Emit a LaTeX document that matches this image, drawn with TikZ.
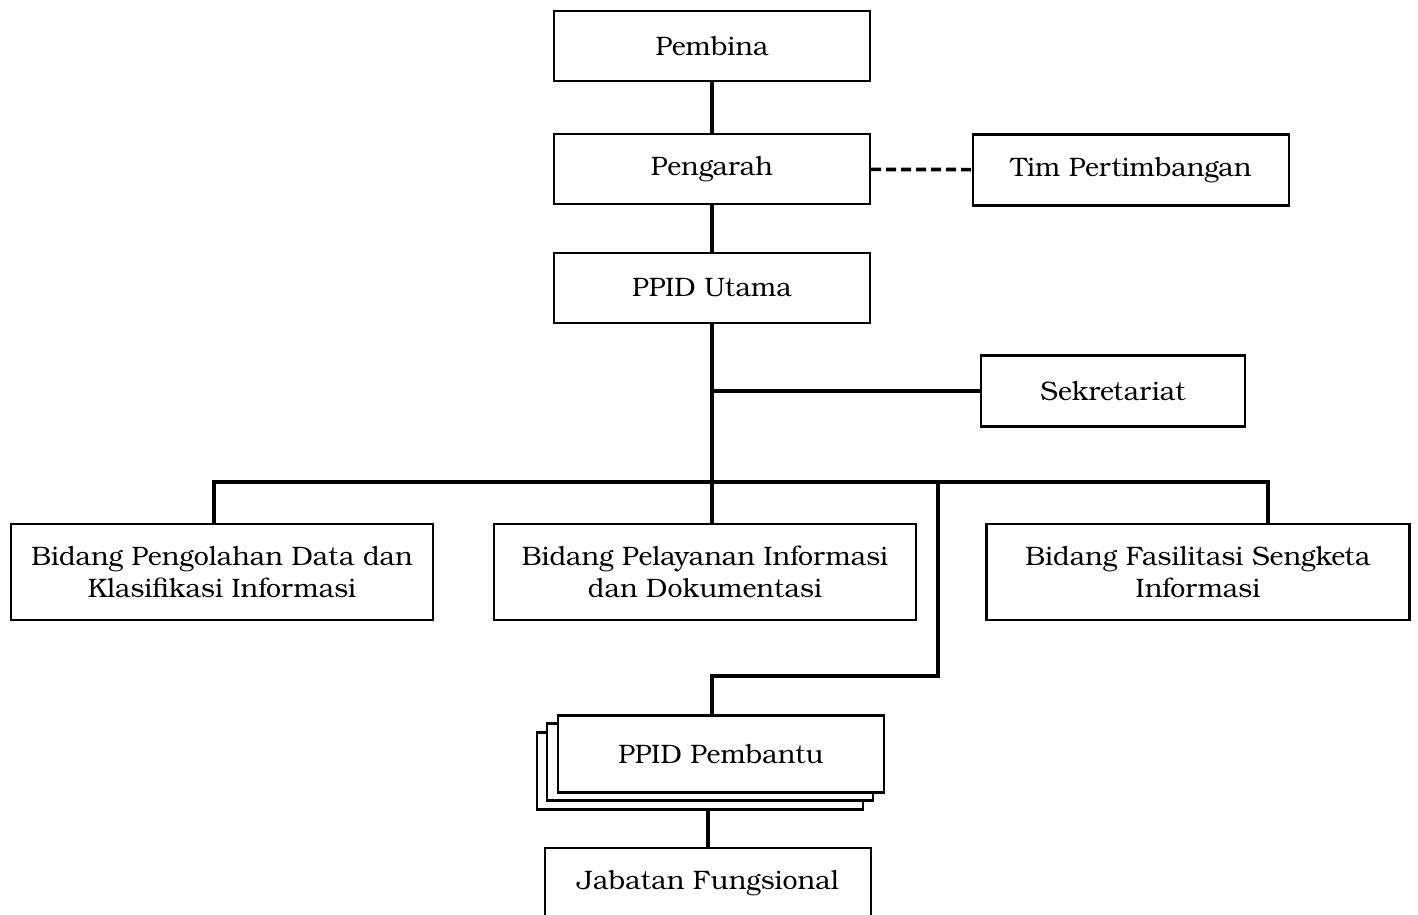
\documentclass[tikz,border=0pt]{standalone}
\usepackage{fontspec}
\setmainfont{TeX Gyre Bonum}
\begin{document}
\begin{tikzpicture}[x=0.02cm,y=-0.02cm,
    box/.style={draw,line width=1.3pt,fill=white,align=center,inner sep=0pt,
      font=\fontsize{15.2}{18}\selectfont},
    link/.style={line width=2.1pt}]
    \useasboundingbox (0,0) rectangle (1418,915);
    \clip (0,0) rectangle (1418,915);
    % top of the chart
    \node[box,minimum width=6.32cm,minimum height=1.4cm] (pembina) at (712,46) {Pembina};
    \node[box,minimum width=6.32cm,minimum height=1.4cm] (pengarah) at (712,169) {Pengarah};
    \node[box,minimum width=6.32cm,minimum height=1.42cm] (tim) at (1131,170) {Tim Pertimbangan};
    \node[box,minimum width=6.32cm,minimum height=1.4cm] (utama) at (712,288) {PPID Utama};
    \node[box,minimum width=5.28cm,minimum height=1.42cm] (sekretariat) at (1113,391) {Sekretariat};
    % bidang
    \node[box,minimum width=8.44cm,minimum height=1.92cm] (pengolahan) at (222,572) {Bidang Pengolahan Data dan\\Klasifikasi Informasi};
    \node[box,minimum width=8.44cm,minimum height=1.92cm] (pelayanan) at (705,572) {Bidang Pelayanan Informasi\\dan Dokumentasi};
    \node[box,minimum width=8.46cm,minimum height=1.92cm] (fasilitasi) at (1198,572) {Bidang Fasilitasi Sengketa\\Informasi};
    % stacked PPID Pembantu
    \node[box,minimum width=6.52cm,minimum height=1.54cm] (pembantuC) at (700,771) {};
    \node[box,minimum width=6.52cm,minimum height=1.54cm] (pembantuB) at (710,762) {};
    \node[box,minimum width=6.52cm,minimum height=1.54cm] (pembantu) at (721,754) {PPID Pembantu};
    \node[box,minimum width=6.52cm,minimum height=1.4cm] (jabatan) at (708,883) {Jabatan Fungsional};
    \coordinate (busL) at (214,482);
    \coordinate (busR) at (1268,482);
    \coordinate (tap) at (938,482);
    \coordinate (elbow) at (938,676);
    \coordinate (drop) at (712,676);
    \draw[link] (pembina) -- (pengarah);
    \draw[link,dash pattern=on 0.2cm off 0.1cm] (pengarah) -- (tim);
    \draw[link] (pengarah) -- (utama);
    \draw[link] (utama.south) -- (utama.south |- pelayanan.north);
    \draw[link] (utama.south |- sekretariat.west) -- (sekretariat);
    \draw[link] (busL |- pengolahan.north) -- (busL) -- (busR) -- (busR |- fasilitasi.north);
    \draw[link] (tap) -- (elbow) -- (drop) -- (drop |- pembantu.north);
    \draw[link] (pembantuC.south -| jabatan.north) -- (jabatan);
  \end{tikzpicture}
\end{document}
